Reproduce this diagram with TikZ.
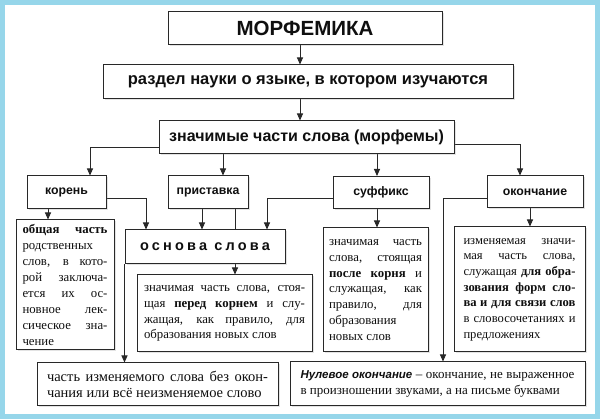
\documentclass[tikz,border=0pt]{standalone}
\usepackage{fontspec}
\setmainfont{Liberation Serif}
\setsansfont{Liberation Sans}
\usetikzlibrary{arrows.meta,backgrounds,shadows}
\definecolor{frameBlue}{RGB}{150,214,234}
\definecolor{mfLine}{RGB}{40,40,40}
\definecolor{mfText}{RGB}{15,15,15}

\begin{document}
\begin{tikzpicture}[x=1pt,y=-1pt,
  box/.style={draw=mfLine, line width=1pt, fill=white, text=mfText, inner sep=0pt,
    drop shadow={shadow xshift=1.5pt, shadow yshift=-1.5pt, opacity=0.22}},
  head/.style={box, font=\sffamily\bfseries\fontsize{12.3}{14}\selectfont},
  desc/.style={box, align=justify, font=\fontsize{12.8}{15.7}\selectfont},
  link/.style={draw=mfLine, line width=0.9pt},
  arr/.style={link, -{Triangle[length=7pt,width=6pt]}}]
\useasboundingbox (0,0) rectangle (600,419);

% top chain
\node[box, minimum width=274pt, minimum height=33pt,
  font=\sffamily\bfseries\fontsize{20.5}{24}\selectfont] (morf) at (305,28.5) {МОРФЕМИКА};
\node[box, minimum width=410pt, minimum height=34pt,
  font=\sffamily\bfseries\fontsize{16.5}{20}\selectfont] (razdel) at (308,82) {раздел науки о языке, в котором изучаются};
\node[box, minimum width=295pt, minimum height=33pt,
  font=\sffamily\bfseries\fontsize{16}{20}\selectfont] (znach) at (306.5,137.5) {значимые части слова (морфемы)};

% morphemes
\node[head, minimum width=79pt, minimum height=33pt] (koren) at (66.5,192.5) {корень};
\node[head, minimum width=80pt, minimum height=33pt] (prist) at (208,192.5) {приставка};
\node[head, minimum width=96pt, minimum height=32pt] (suff) at (381,192.5) {суффикс};
\node[head, minimum width=96pt, minimum height=32pt] (okon) at (535,192) {окончание};

% descriptions
\node[desc, text width=85pt, minimum width=98pt, minimum height=130pt,
  font=\fontsize{12.8}{16}\selectfont] (obsh) at (65,285)
  {\textbf{общая часть}\linebreak родственных\linebreak слов, в кото-\linebreak рой заключа-\linebreak ется их ос-\linebreak новное лек-\linebreak сическое зна-\linebreak чение};
\node[box, minimum width=160pt, minimum height=34pt,
  font=\sffamily\bfseries\fontsize{14.5}{16}\selectfont\addfontfeatures{LetterSpace=22}] (osnova) at (205,247) {основа слова};
\node[desc, text width=161pt, minimum width=175pt, minimum height=77pt] (pdesc) at (224.5,313.5)
  {значимая часть слова, стоя-\linebreak щая \textbf{перед корнем} и слу-\linebreak жащая, как правило, для\linebreak образования новых слов};
\node[desc, text width=93pt, minimum width=105pt, minimum height=124pt] (sdesc) at (375.5,290)
  {значимая часть\linebreak слова, стоящая\linebreak \textbf{после корня} и\linebreak служащая, как\linebreak правило, для\linebreak образования\hfill\break новых слов};
\node[desc, text width=112pt, minimum width=131pt, minimum height=125pt,
  font=\fontsize{12.6}{15.7}\selectfont] (odesc) at (519.5,289.5)
  {изменяемая значи-\linebreak мая часть слова,\linebreak служащая \textbf{для обра-\linebreak зования форм сло-\linebreak ва и для связи слов}\linebreak в словосочетаниях и\linebreak предложениях};

% bottom row
\node[desc, text width=221pt, minimum width=241pt, minimum height=43pt,
  font=\fontsize{14.5}{15.5}\selectfont] (chast) at (157.5,384.5)
  {часть изменяемого слова без окон-\linebreak чания или всё неизменяемое слово};
\node[desc, text width=274pt, minimum width=295pt, minimum height=44pt,
  font=\fontsize{13}{15.3}\selectfont] (nulev) at (437.5,384)
  {{\sffamily\bfseries\itshape\fontsize{11.5}{15.3}\selectfont Нулевое окончание} – окончание, не выраженное\linebreak в произношении звуками, а на письме буквами};

\begin{scope}[on background layer]
\fill[frameBlue] (0,0) rectangle (600,419);
\fill[white] (5,5) rectangle (595,414);
\draw[arr] (morf.south -| 300,0) -- (razdel.north -| 300,0);
\draw[arr] (razdel.south -| 300,0) -- (znach.north -| 300,0);
\draw[arr] (znach.west |- 0,147) -| (koren.north -| 90,0);
\draw[arr] (znach.south -| 223,0) -- (prist.north -| 223,0);
\draw[arr] (znach.south -| 377,0) -- (suff.north -| 377,0);
\draw[arr] (znach.east |- 0,144) -| (okon.north -| 520,0);
\draw[arr] (koren.south -| 48,0) -- (obsh.north -| 48,0);
\draw[arr] (koren.east |- 0,198) -| (osnova.north -| 146,0);
\draw[arr] (prist.south -| 202,0) -- (osnova.north -| 202,0);
\draw[arr] (prist.south -| 235,0) -- (pdesc.north -| 235,0);
\draw[arr] (suff.west |- 0,198) -| (osnova.north -| 267,0);
\draw[arr] (suff.south -| 377,0) -- (sdesc.north -| 377,0);
\draw[arr] (okon.south -| 530,0) -- (odesc.north -| 530,0);
\draw[arr] (okon.west |- 0,198) -| (nulev.north -| 443,0);
\draw[arr] (osnova.south west) -- (chast.north -| osnova.south west);
\end{scope}
\end{tikzpicture}
\end{document}
